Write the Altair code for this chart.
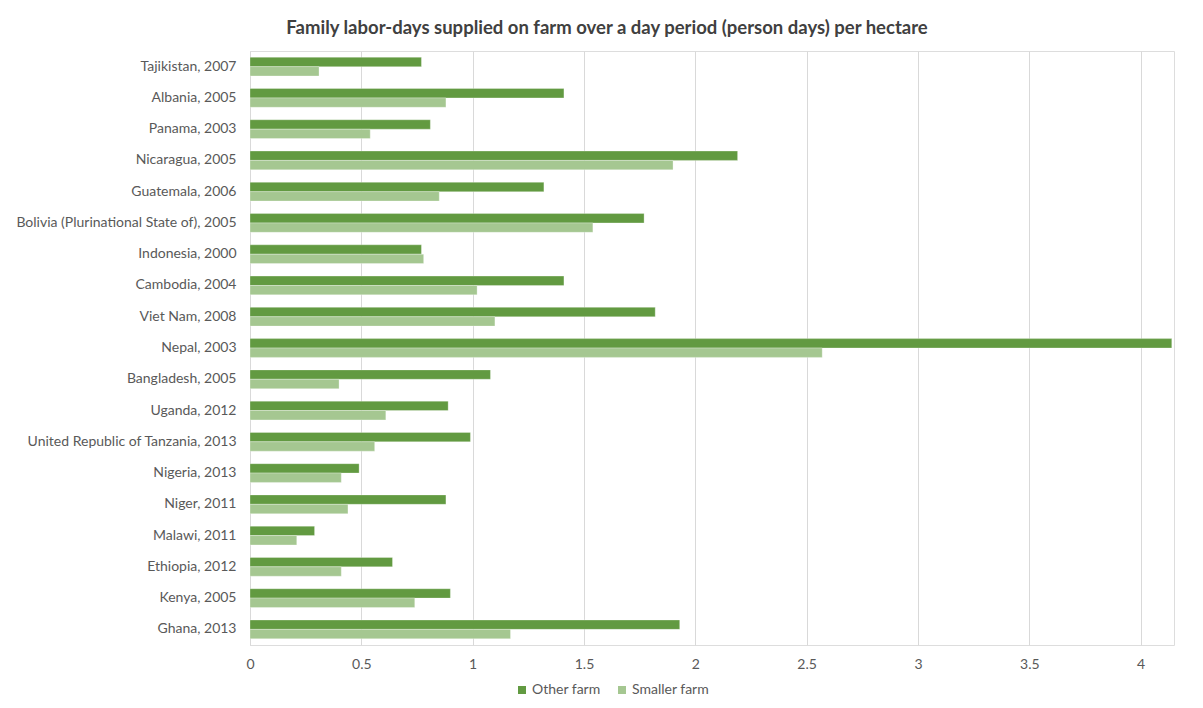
import altair as alt
import pandas as pd

countries = [
    "Tajikistan, 2007", "Albania, 2005", "Panama, 2003", "Nicaragua, 2005",
    "Guatemala, 2006", "Bolivia (Plurinational State of), 2005", "Indonesia, 2000",
    "Cambodia, 2004", "Viet Nam, 2008", "Nepal, 2003", "Bangladesh, 2005",
    "Uganda, 2012", "United Republic of Tanzania, 2013", "Nigeria, 2013",
    "Niger, 2011", "Malawi, 2011", "Ethiopia, 2012", "Kenya, 2005", "Ghana, 2013",
]
other_farm = [0.77, 1.41, 0.81, 2.19, 1.32, 1.77, 0.77, 1.41, 1.82, 4.14, 1.08,
              0.89, 0.99, 0.49, 0.88, 0.29, 0.64, 0.90, 1.93]
smaller_farm = [0.31, 0.88, 0.54, 1.90, 0.85, 1.54, 0.78, 1.02, 1.10, 2.57, 0.40,
                0.61, 0.56, 0.41, 0.44, 0.21, 0.41, 0.74, 1.17]
series = ["Other farm", "Smaller farm"]
colors = ["#629A41", "#A5C791"]
x_ticks = [0, 0.5, 1, 1.5, 2, 2.5, 3, 3.5, 4]

rows = []
for c, o, s in zip(countries, other_farm, smaller_farm):
    rows.append({"country": c, "series": series[0], "value": o})
    rows.append({"country": c, "series": series[1], "value": s})
df = pd.DataFrame(rows)

FONT = "Lato"

chart = alt.Chart(df).mark_bar(stroke="#ffffff", strokeWidth=0.3).encode(
    y=alt.Y("country:N", sort=countries, title=None,
            scale=alt.Scale(paddingInner=0.40, paddingOuter=0.20),
            axis=alt.Axis(ticks=False, labelPadding=14, labelFontSize=14,
                          labelColor="#595959", labelFont=FONT, labelLimit=400,
                          domainColor="#D9D9D9", grid=False)),
    yOffset=alt.YOffset("series:N", sort=series),
    x=alt.X("value:Q", title=None,
            scale=alt.Scale(domain=[0, 4.15], nice=False),
            axis=alt.Axis(values=x_ticks, ticks=False, domain=False, labelPadding=12,
                          labelFontSize=14, labelColor="#595959", labelFont=FONT,
                          gridColor="#D9D9D9", gridWidth=1,
                          labelFlush=False, labelExpr="datum.value")),
    color=alt.Color("series:N", sort=series,
                    scale=alt.Scale(domain=series, range=colors),
                    legend=alt.Legend(title=None, orient="none", direction="horizontal",
                                      legendX=265, legendY=632, symbolType="square",
                                      symbolSize=64, symbolStrokeWidth=0,
                                      labelFontSize=14, labelColor="#595959",
                                      labelFont=FONT, columnPadding=14,
                                      labelOffset=3)),
).properties(
    width=924,
    height=594,
    title=alt.TitleParams(
        "Family labor-days supplied on farm over a day period (person days) per hectare",
        fontSize=18.5, fontWeight="bold", color="#404040", font=FONT,
        anchor="middle", dx=-105, offset=14),
    autosize=alt.AutoSizeParams(type="none"),
    padding={"left": 242, "top": 43, "right": 20, "bottom": 60},
).configure_view(stroke=None).configure(background="white")

chart.save("out.html", embed_options={"renderer": "svg", "actions": False})
